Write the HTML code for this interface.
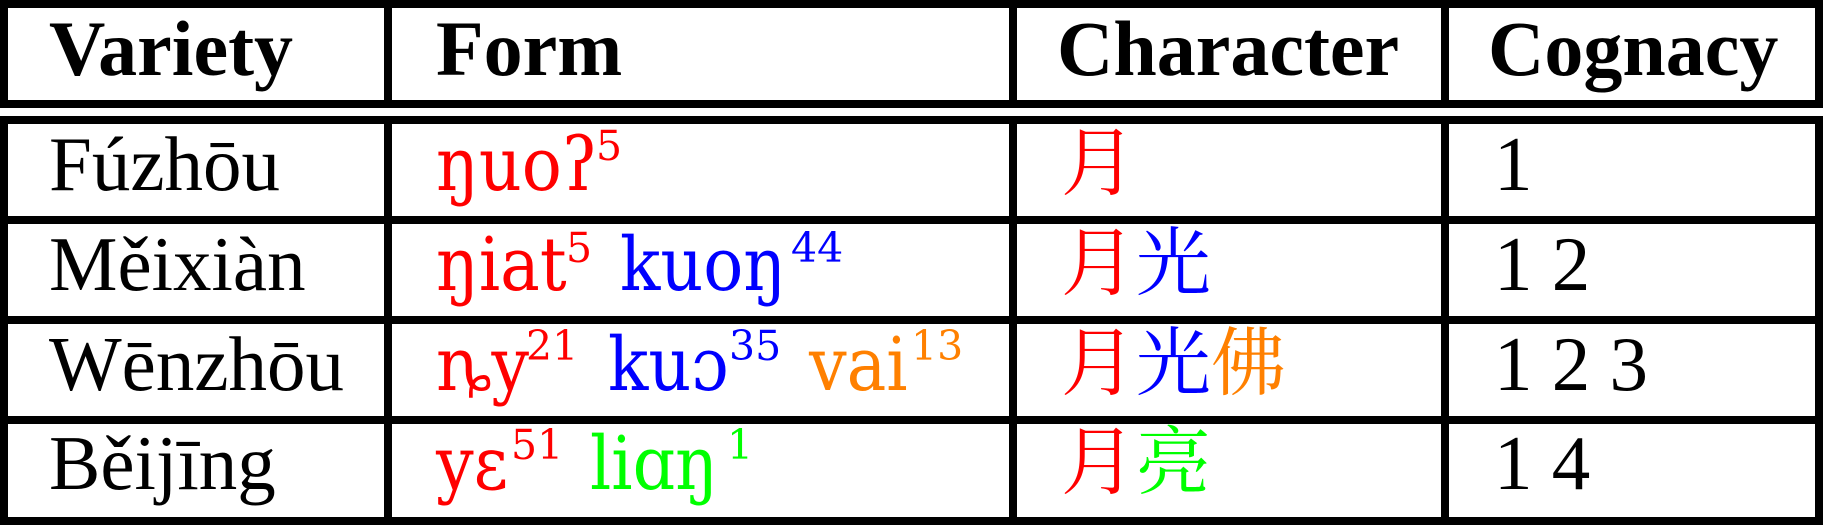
<!DOCTYPE html>
<html><head><meta charset="utf-8"><style>
html,body{margin:0;padding:0;background:#fff;width:1825px;height:525px;overflow:hidden}
svg{display:block}
.h{font-family:"Liberation Serif",serif;font-weight:bold;font-size:78px;fill:#000}
.v{font-family:"Liberation Serif",serif;font-size:77px;fill:#000}
.i{font-family:"DejaVu Serif Condensed","DejaVu Serif",serif;font-stretch:condensed;font-size:74px}
.s{font-family:"DejaVu Serif",serif;font-size:41px}
.c{font-family:"Noto Serif CJK SC","Noto Sans CJK SC",serif;font-size:75px}
.r{fill:#ff0000}.b{fill:#0000ff}.o{fill:#ff8000}.g{fill:#00ff00}
</style></head><body>
<svg width="1825" height="525" viewBox="0 0 1825 525">
<g fill="#000">
<rect x="0" y="0" width="1823" height="8"/>
<rect x="0" y="100" width="1823" height="8"/>
<rect x="0" y="0" width="8" height="108"/>
<rect x="384" y="0" width="8" height="108"/>
<rect x="1009" y="0" width="8" height="108"/>
<rect x="1441" y="0" width="8" height="108"/>
<rect x="1815" y="0" width="8" height="108"/>
<rect x="0" y="116" width="1823" height="8"/>
<rect x="0" y="216" width="1823" height="8"/>
<rect x="0" y="316" width="1823" height="8"/>
<rect x="0" y="416" width="1823" height="8"/>
<rect x="0" y="517" width="1823" height="8"/>
<rect x="0" y="116" width="8" height="409"/>
<rect x="384" y="116" width="8" height="409"/>
<rect x="1009" y="116" width="8" height="409"/>
<rect x="1441" y="116" width="8" height="409"/>
<rect x="1815" y="116" width="8" height="409"/>
</g>
<g>
<text class="h" x="49" y="75">Variety</text>
<text class="h" x="436" y="75">Form</text>
<text class="h" x="1057" y="75">Character</text>
<text class="h" x="1488" y="75">Cognacy</text>
</g>
<g>
<text class="v" x="49" y="190">Fúzhōu</text>
<text class="i r" x="436" y="190">ŋuoʔ</text><text class="s r" x="596" y="160">5</text>
<text class="c" x="1061" y="189"><tspan class="r">月</tspan></text>
<text class="v" x="1494" y="190">1</text>
</g>
<g>
<text class="v" x="49" y="290">Měixiàn</text>
<text class="i r" x="436" y="290">ŋiat</text><text class="s r" x="566" y="262">5</text>
<text class="i b" x="620" y="290">kuoŋ</text><text class="s b" x="791" y="262">44</text>
<text class="c" x="1061" y="289"><tspan class="r">月</tspan><tspan class="b">光</tspan></text>
<text class="v" x="1494" y="290">1 2</text>
</g>
<g>
<text class="v" x="49" y="390">Wēnzhōu</text>
<text class="i r" x="436" y="390">ȵy</text><text class="s r" x="526" y="360">21</text>
<text class="i b" x="608" y="390">kuɔ</text><text class="s b" x="729" y="360">35</text>
<text class="i o" x="809" y="390">vai</text><text class="s o" x="911" y="360">13</text>
<text class="c" x="1061" y="389"><tspan class="r">月</tspan><tspan class="b">光</tspan><tspan class="o">佛</tspan></text>
<text class="v" x="1494" y="390">1 2 3</text>
</g>
<g>
<text class="v" x="49" y="489">Běijīng</text>
<text class="i r" x="436" y="489">yɛ</text><text class="s r" x="511" y="459">51</text>
<text class="i g" x="590" y="489">liɑŋ</text><text class="s g" x="727" y="459">1</text>
<text class="c" x="1061" y="488"><tspan class="r">月</tspan><tspan class="g">亮</tspan></text>
<text class="v" x="1494" y="489">1 4</text>
</g>
</svg>
</body></html>
